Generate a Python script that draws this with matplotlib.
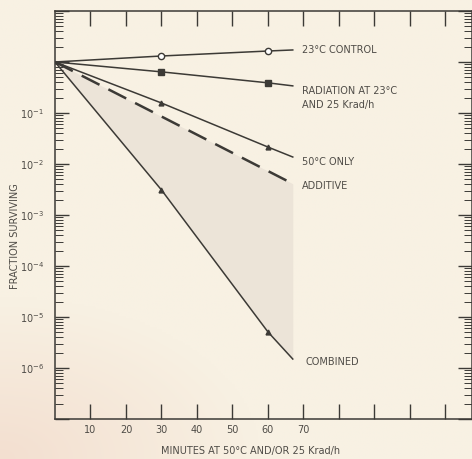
import matplotlib
matplotlib.use('Agg')
import matplotlib.pyplot as plt
from matplotlib.ticker import LogLocator, NullFormatter, FixedLocator
import numpy as np

# data
minutes_pts = [0, 30, 60, 67]
control = [1.0, 1.31, 1.64, 1.72]
radiation = [1.0, 0.64, 0.39, 0.34]
heat_only = [1.0, 0.157, 0.0215, 0.0137]
additive_x = [0, 67]
additive = [1.0, 0.0041]
combined = [1.0, 0.0031, 5.1e-6, 1.5e-6]

x_ticks = [10, 20, 30, 40, 50, 60, 70, 80, 90, 100, 110]
x_labels = ['10', '20', '30', '40', '50', '60', '70', '', '', '', '']
y_labels = {1e-1: '$10^{-1}$', 1e-2: '$10^{-2}$', 1e-3: '$10^{-3}$',
            1e-4: '$10^{-4}$', 1e-5: '$10^{-5}$', 1e-6: '$10^{-6}$'}

bg = '#f8f1e3'
ink = '#3c3a36'
txt = '#4f4c47'

fig = plt.figure(figsize=(4.72, 4.59), dpi=100, facecolor=bg)

# faint pinkish tint of the photo in the lower left corner
bgax = fig.add_axes([0, 0, 1, 1], zorder=-1)
gy, gx = np.mgrid[0:1:200j, 0:1:200j]
d = np.clip(1 - np.hypot(gx / 0.55, gy / 0.35), 0, 1)
base = np.array([0xf8, 0xf1, 0xe3]) / 255
tint = np.array([0xf3, 0xdf, 0xd0]) / 255
img = base + (tint - base) * d[..., None]
bgax.imshow(img, origin='lower', extent=[0, 1, 0, 1], aspect='auto')
bgax.axis('off')

ax = fig.add_axes([0.1165, 0.0871, 0.8835, 0.889])
ax.patch.set_alpha(0)
ax.set_yscale('log')
ax.set_xlim(0, 117.5)
ax.set_ylim(1e-7, 1e1)

# shaded area between additive and combined
xs = np.array(minutes_pts, dtype=float)
add_interp = np.exp(np.interp(xs, additive_x, np.log(additive)))
ax.fill_between(xs, combined, add_interp, color='#ece4d8', lw=0, zorder=1)

ax.plot(minutes_pts, control, color=ink, lw=1.1, marker='o', markersize=4.5,
        markerfacecolor='white', markeredgecolor=ink, markevery=[1, 2], zorder=3)
ax.plot(minutes_pts, radiation, color=ink, lw=1.1, marker='s', markersize=4.5,
        markevery=[1, 2], zorder=3)
ax.plot(minutes_pts, heat_only, color=ink, lw=1.1, marker='^', markersize=3.5,
        markevery=[1, 2], zorder=3)
ax.plot(additive_x, additive, color=ink, lw=1.8, dashes=(8, 4), zorder=3)
ax.plot(minutes_pts, combined, color=ink, lw=1.1, marker='^', markersize=3.5,
        markevery=[1, 2], zorder=3)

fs = 7
ax.text(69.5, 1.7, '23°C CONTROL', fontsize=fs, color=txt, va='center')
ax.text(69.5, 0.34, 'RADIATION AT 23°C\nAND 25 Krad/h', fontsize=fs, color=txt,
        va='top', linespacing=1.5)
ax.text(69.5, 0.011, '50°C ONLY', fontsize=fs, color=txt, va='center')
ax.text(69.5, 0.0037, 'ADDITIVE', fontsize=fs, color=txt, va='center')
ax.text(70.5, 1.3e-6, 'COMBINED', fontsize=fs, color=txt, va='center')

# ticks
ax.xaxis.set_major_locator(FixedLocator(x_ticks))
ax.set_xticklabels(x_labels)
ax.tick_params(axis='x', which='major', direction='in', length=11, width=1,
               color=ink, top=True, labelsize=fs, labelcolor=txt, pad=4)
ax.yaxis.set_major_locator(LogLocator(base=10, numticks=20))
ax.yaxis.set_minor_locator(LogLocator(base=10, subs=np.arange(2, 10), numticks=20))
ax.yaxis.set_minor_formatter(NullFormatter())
ax.set_yticks([10.0 ** k for k in range(-7, 2)])
ax.set_yticklabels([y_labels.get(10.0 ** k, '') for k in range(-7, 2)])
ax.tick_params(axis='y', which='major', direction='in', length=10, width=1,
               color=ink, right=True, labelsize=fs, labelcolor=txt, pad=8)
ax.tick_params(axis='y', which='minor', direction='in', length=6, width=0.7,
               color=ink, right=True)

for s in ax.spines.values():
    s.set_color(ink)
    s.set_linewidth(1.1)

fig.text(0.032, 0.485, 'FRACTION SURVIVING', rotation=90, fontsize=fs,
         color=txt, ha='center', va='center')
fig.text(0.53, 0.017, 'MINUTES AT 50°C AND/OR 25 Krad/h', fontsize=fs,
         color=txt, ha='center', va='center')

fig.savefig('out.png', dpi=100, facecolor=bg)
